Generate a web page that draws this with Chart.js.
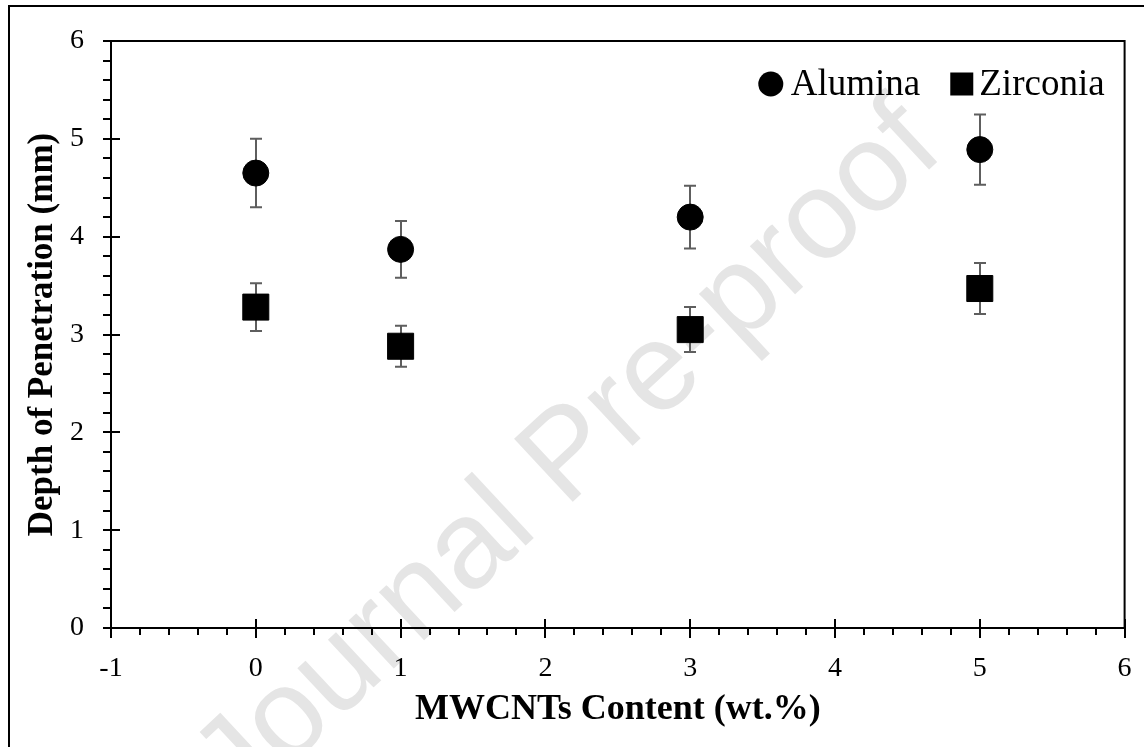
<!DOCTYPE html>
<html><head><meta charset="utf-8">
<script src="https://cdn.jsdelivr.net/npm/chart.js@4/dist/chart.umd.min.js"></script>
<style>html,body{margin:0;padding:0;background:#fff;} canvas{display:block;}</style>
</head><body>
<canvas id="c" width="1144" height="747"></canvas>
<script>
// ---- data ----
const contentWt = [0, 1, 3, 5];
const aluminaDepth = [4.65, 3.87, 4.20, 4.89];
const aluminaErr = [0.35, 0.29, 0.32, 0.36];
const zirconiaDepth = [3.28, 2.88, 3.05, 3.47];
const zirconiaErr = [0.245, 0.21, 0.23, 0.26];
const xTicks = [-1, 0, 1, 2, 3, 4, 5, 6];
const yTicks = [0, 1, 2, 3, 4, 5, 6];
const seriesNames = ['Alumina', 'Zirconia'];
const xTitle = 'MWCNTs Content (wt.%)';
const yTitle = 'Depth of Penetration (mm)';
const watermarkText = 'Journal Pre-proof';

const SERIF = "'Liberation Serif', 'Times New Roman', serif";

const toPts = (xs, ys) => xs.map((x, i) => ({x: x, y: ys[i]}));

const bgPlugin = {
  id: 'bg',
  beforeDraw(chart) {
    const ctx = chart.ctx;
    ctx.save();
    ctx.fillStyle = '#fff';
    ctx.fillRect(0, 0, chart.width, chart.height);
    // outer frame
    ctx.strokeStyle = '#000';
    ctx.lineWidth = 2;
    ctx.beginPath();
    ctx.moveTo(9, chart.height);
    ctx.lineTo(9, 6);
    ctx.lineTo(chart.width, 6);
    ctx.stroke();
    // watermark
    ctx.translate(240, 812);
    ctx.rotate(-43 * Math.PI / 180);
    ctx.font = "125px 'Liberation Sans', Arial, sans-serif";
    ctx.fillStyle = '#e5e5e5';
    ctx.textBaseline = 'alphabetic';
    ctx.textAlign = 'left';
    ctx.fillText(watermarkText, 0, 0);
    ctx.restore();
  }
};

const errPlugin = {
  id: 'errbars',
  beforeDatasetsDraw(chart) {
    const ctx = chart.ctx;
    const xs = chart.scales.x, ys = chart.scales.y;
    ctx.save();
    ctx.strokeStyle = '#5e5e5e';
    ctx.lineWidth = 2;
    chart.data.datasets.forEach(ds => {
      ds.errors.forEach((e, j) => {
        const px = Math.round(xs.getPixelForValue(ds.data[j].x));
        const yt = ys.getPixelForValue(ds.data[j].y + e);
        const yb = ys.getPixelForValue(ds.data[j].y - e);
        ctx.beginPath();
        ctx.moveTo(px, yt); ctx.lineTo(px, yb);
        ctx.moveTo(px - 6, yt); ctx.lineTo(px + 6, yt);
        ctx.moveTo(px - 6, yb); ctx.lineTo(px + 6, yb);
        ctx.stroke();
      });
    });
    ctx.restore();
  }
};

const framePlugin = {
  id: 'frame',
  afterDraw(chart) {
    const ctx = chart.ctx;
    const a = chart.chartArea;
    const xs = chart.scales.x, ys = chart.scales.y;
    ctx.save();
    ctx.strokeStyle = '#000';
    ctx.lineWidth = 2;
    ctx.beginPath();
    ctx.moveTo(a.left, a.top); ctx.lineTo(a.right, a.top); ctx.lineTo(a.right, a.bottom);
    ctx.stroke();
    // x ticks (major + 4 minor)
    ctx.beginPath();
    const nx = Math.round((xs.max - xs.min) * 5);
    for (let i = 0; i <= nx; i++) {
      const v = xs.min + i / 5;
      const px = Math.round(xs.getPixelForValue(v));
      if (i % 5 === 0) { ctx.moveTo(px, a.bottom - 9); ctx.lineTo(px, a.bottom + 10); }
      else { ctx.moveTo(px, a.bottom); ctx.lineTo(px, a.bottom + 7); }
    }
    const ny = Math.round((ys.max - ys.min) * 5);
    for (let i = 0; i <= ny; i++) {
      const v = ys.min + i / 5;
      const py = Math.round(ys.getPixelForValue(v));
      if (i % 5 === 0) { ctx.moveTo(a.left - 8, py); ctx.lineTo(a.left + 9, py); }
      else { ctx.moveTo(a.left - 8, py); ctx.lineTo(a.left, py); }
    }
    ctx.stroke();
    ctx.restore();
  }
};

const legendPlugin = {
  id: 'customLegend',
  afterDraw(chart) {
    const ctx = chart.ctx;
    const a = chart.chartArea;
    ctx.save();
    ctx.font = '37px ' + SERIF;
    ctx.fillStyle = '#000';
    ctx.textBaseline = 'alphabetic';
    const cy = 84, base = 95;
    const dsA = chart.data.datasets[0], dsB = chart.data.datasets[1];
    const wA = ctx.measureText(dsA.label).width;
    const wB = ctx.measureText(dsB.label).width;
    const right = a.right - 20;
    // Zirconia item
    const tB = right - wB;
    ctx.fillText(dsB.label, tB, base);
    ctx.fillRect(tB - 29, cy - 11.5, 23, 23);
    // Alumina item
    const tA = tB - 29 - 30 - wA;
    ctx.fillText(dsA.label, tA, base);
    ctx.beginPath();
    ctx.arc(tA - 20, cy, 12.5, 0, Math.PI * 2);
    ctx.fill();
    ctx.restore();
  }
};

new Chart(document.getElementById('c'), {
  type: 'scatter',
  data: {
    datasets: [
      { label: seriesNames[0], data: toPts(contentWt, aluminaDepth), errors: aluminaErr,
        pointStyle: 'circle', pointRadius: 13, backgroundColor: '#000', borderColor: '#000', borderWidth: 1, showLine: false },
      { label: seriesNames[1], data: toPts(contentWt, zirconiaDepth), errors: zirconiaErr,
        pointStyle: 'rect', pointRadius: 18.4, backgroundColor: '#000', borderColor: '#000', borderWidth: 1, showLine: false }
    ]
  },
  options: {
    responsive: false,
    animation: false,
    events: [],
    layout: { padding: { top: 41, right: 12, left: 0, bottom: 0 } },
    plugins: { legend: { display: false }, tooltip: { enabled: false } },
    scales: {
      x: {
        type: 'linear', min: -1, max: 6,
        afterBuildTicks: s => { s.ticks = xTicks.map(v => ({ value: v })); },
        grid: { display: false, drawTicks: true, tickLength: 24 },
        border: { display: true, color: '#000', width: 2 },
        ticks: { font: { family: SERIF, size: 28 }, color: '#000', padding: 0, maxRotation: 0, autoSkip: false },
        title: { display: true, text: xTitle, color: '#000', font: { family: SERIF, size: 36, weight: 'bold' }, padding: { top: 0, bottom: 16 } },
        afterFit: s => { s.height = 119; s.paddingLeft = 0; s.paddingRight = 0; }
      },
      y: {
        type: 'linear', min: 0, max: 6,
        afterBuildTicks: s => { s.ticks = yTicks.map(v => ({ value: v })); },
        grid: { display: false, drawTicks: true, tickLength: 27 },
        border: { display: true, color: '#000', width: 2 },
        ticks: { font: { family: SERIF, size: 28 }, color: '#000', padding: 0, autoSkip: false },
        title: { display: true, text: yTitle, color: '#000', font: { family: SERIF, size: 35, weight: 'bold' }, padding: { top: 22, bottom: 0 } },
        afterFit: s => { s.width = 111; }
      }
    }
  },
  plugins: [bgPlugin, errPlugin, framePlugin, legendPlugin]
});
</script>
</body></html>
